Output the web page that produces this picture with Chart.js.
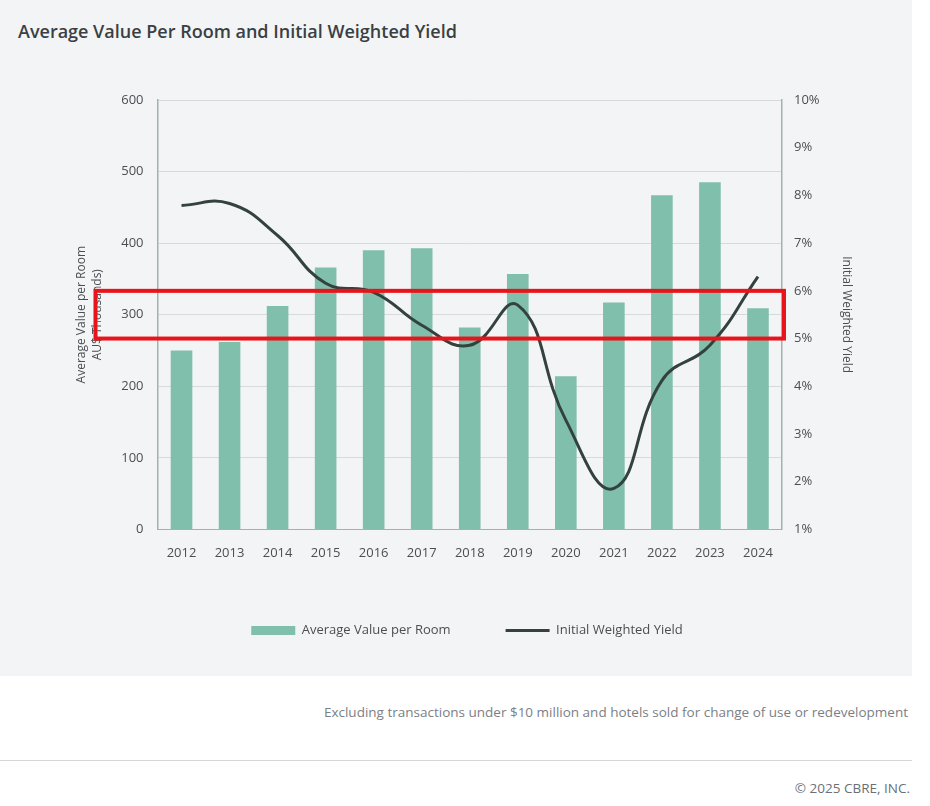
<!DOCTYPE html>
<html>
<head>
<meta charset="utf-8">
<script src="https://cdn.jsdelivr.net/npm/chart.js@4"></script>
<style>
  body { margin: 0; background: #fff; font-family: "Open Sans", sans-serif; }
  #panel { position: absolute; left: 0; top: 0; width: 912px; height: 676px; background: #f3f4f5; }
  #title { position: absolute; left: 18px; top: 19px; font-size: 18px; font-weight: 600; color: #3a3f44; }
  #wrap { position: absolute; left: 0; top: 60px; width: 912px; height: 597px; }
  #note { position: absolute; right: 22px; top: 703px; font-size: 13.5px; color: #7b8085; }
  #rule { position: absolute; left: 0; top: 760px; width: 912px; height: 1px; background: #d4d7da; }
  #copy { position: absolute; right: 20px; top: 779px; font-size: 13.5px; color: #6b7075; }
</style>
</head>
<body>
<div id="panel"></div>
<div id="title">Average Value Per Room and Initial Weighted Yield</div>
<div id="wrap"><canvas id="chart"></canvas></div>
<div id="note">Excluding transactions under $10 million and hotels sold for change of use or redevelopment</div>
<div id="rule"></div>
<div id="copy">© 2025 CBRE, INC.</div>
<script>
// السنوات والقيم المقروءة من الصورة
const years = ['2012','2013','2014','2015','2016','2017','2018','2019','2020','2021','2022','2023','2024'];
const valuePerRoom = [250, 262, 312, 366, 390, 393, 282, 357, 214, 317, 467, 485, 309];
const weightedYield = [7.79, 7.83, 7.16, 6.16, 5.97, 5.28, 4.86, 5.70, 3.29, 1.86, 4.12, 4.86, 6.30];
// المنطقة المظللة بالأحمر (على محور العائد)
const highlightBand = [5, 6];

// رسم المستطيل الأحمر
const highlightPlugin = {
    id: 'highlight',
    afterDraw(chart) {
        const ctx = chart.ctx;
        const y = chart.scales.y1;
        const top = y.getPixelForValue(highlightBand[1]);
        const bottom = y.getPixelForValue(highlightBand[0]);
        const left = chart.chartArea.left - 62;
        const right = chart.chartArea.right + 2;
        ctx.save();
        ctx.strokeStyle = '#e8141b';
        ctx.lineWidth = 4;
        ctx.strokeRect(left, top, right - left, bottom - top);
        ctx.restore();
    }
};

const tickFont = { family: 'Open Sans', size: 13 };

new Chart(document.getElementById('chart'), {
    data: {
        labels: years,
        datasets: [{
            type: 'line',
            label: 'Initial Weighted Yield',
            data: weightedYield,
            yAxisID: 'y1',
            borderColor: '#34423f',
            borderWidth: 3,
            pointRadius: 0,
            tension: 0.45,
            pointStyle: 'line',
            order: 0
        }, {
            type: 'bar',
            label: 'Average Value per Room',
            data: valuePerRoom,
            yAxisID: 'y',
            backgroundColor: '#7fbfab',
            barPercentage: 0.45,
            categoryPercentage: 1,
            pointStyle: 'rect',
            order: 1
        }]
    },
    options: {
        responsive: true,
        maintainAspectRatio: false,
        animation: false,
        layout: { padding: { left: 72, right: 50, top: 40, bottom: 10 } },
        plugins: {
            legend: {
                position: 'bottom',
                reverse: true,
                labels: {
                    usePointStyle: true,
                    pointStyleWidth: 44,
                    boxHeight: 9,
                    padding: 55,
                    color: '#4a4f54',
                    font: tickFont
                }
            },
            tooltip: { enabled: false }
        },
        scales: {
            x: {
                grid: { display: false },
                border: { color: '#9fb3b0' },
                ticks: { color: '#4a4f54', font: tickFont, padding: 8 }
            },
            y: {
                position: 'left',
                min: 0, max: 600,
                ticks: { stepSize: 100, color: '#4a4f54', font: tickFont, padding: 14 },
                grid: { color: '#d6dadd', drawTicks: false },
                border: { color: '#9fb3b0', width: 1.5 },
                title: {
                    display: true,
                    text: ['Average Value per Room', 'AU$ Thousands)'],
                    color: '#4a4f54',
                    font: { family: 'Open Sans', size: 12, lineHeight: 1.3 },
                    padding: 2
                }
            },
            y1: {
                position: 'right',
                min: 1, max: 10,
                ticks: { stepSize: 1, color: '#4a4f54', font: tickFont, padding: 12, callback: v => v + '%' },
                grid: { display: false, drawTicks: false },
                border: { color: '#9fb3b0', width: 1.5 },
                title: {
                    display: true,
                    text: 'Initial Weighted Yield',
                    color: '#4a4f54',
                    font: { family: 'Open Sans', size: 12 },
                    padding: 8
                }
            }
        }
    },
    plugins: [highlightPlugin]
});
</script>
</body>
</html>
